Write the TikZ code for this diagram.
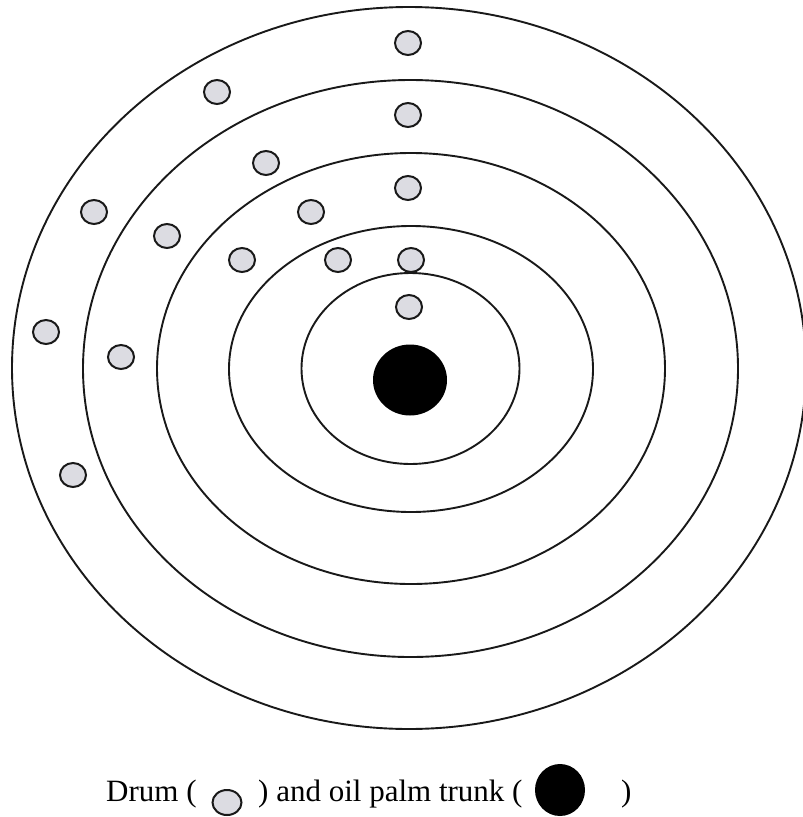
\documentclass[tikz,border=0pt]{standalone}
\usepackage{fontspec}
\setmainfont{Liberation Serif}
\usetikzlibrary{shapes.geometric}
\definecolor{drumgray}{RGB}{220,220,226}
\begin{document}
\begin{tikzpicture}[x=1pt,y=-1pt,
  ring/.style={draw=black!90,line width=1.9pt},
  drum/.style={ellipse,draw=black!90,line width=2pt,fill=drumgray,minimum width=26pt,minimum height=24pt,inner sep=0pt},
  trunk/.style={ellipse,fill=black,inner sep=0pt},
  word/.style={anchor=base west,inner sep=0pt,font=\fontsize{31}{34}\selectfont}]
\useasboundingbox (0,0) rectangle (803,817);
\draw[ring] (409,368) ellipse [x radius=397,y radius=361];
\draw[ring] (410.5,368.5) ellipse [x radius=327.5,y radius=288.5];
\draw[ring] (411,368.5) ellipse [x radius=254,y radius=215.5];
\draw[ring] (411,369) ellipse [x radius=182,y radius=143];
\draw[ring] (410.5,368.5) ellipse [x radius=109,y radius=95.5];
\node[trunk,minimum width=74pt,minimum height=71pt] (t) at (410,380) {};
\node[drum] (d1) at (408,43) {};
\node[drum] (d2) at (217,92) {};
\node[drum] (d3) at (408,115) {};
\node[drum] (d4) at (266,163) {};
\node[drum] (d5) at (408,188) {};
\node[drum] (d6) at (94,212) {};
\node[drum] (d7) at (311,212) {};
\node[drum] (d8) at (167,236) {};
\node[drum] (d9) at (242,260) {};
\node[drum] (d10) at (338,260) {};
\node[drum] (d11) at (411,260) {};
\node[drum] (d12) at (409,307) {};
\node[drum] (d13) at (46,332) {};
\node[drum] (d14) at (121,357) {};
\node[drum] (d15) at (73,475) {};
% legend
\node[word] (w1) at (106,801) {Drum (};
\node[drum,minimum width=29pt,minimum height=25pt] (ld) at (227,802.5) {};
\node[word] (w2) at (258,801) {) and oil palm trunk (};
\node[trunk,minimum width=50pt,minimum height=52pt] (lt) at (560,790) {};
\node[word] (w3) at (621,801) {)};
\end{tikzpicture}
\end{document}
